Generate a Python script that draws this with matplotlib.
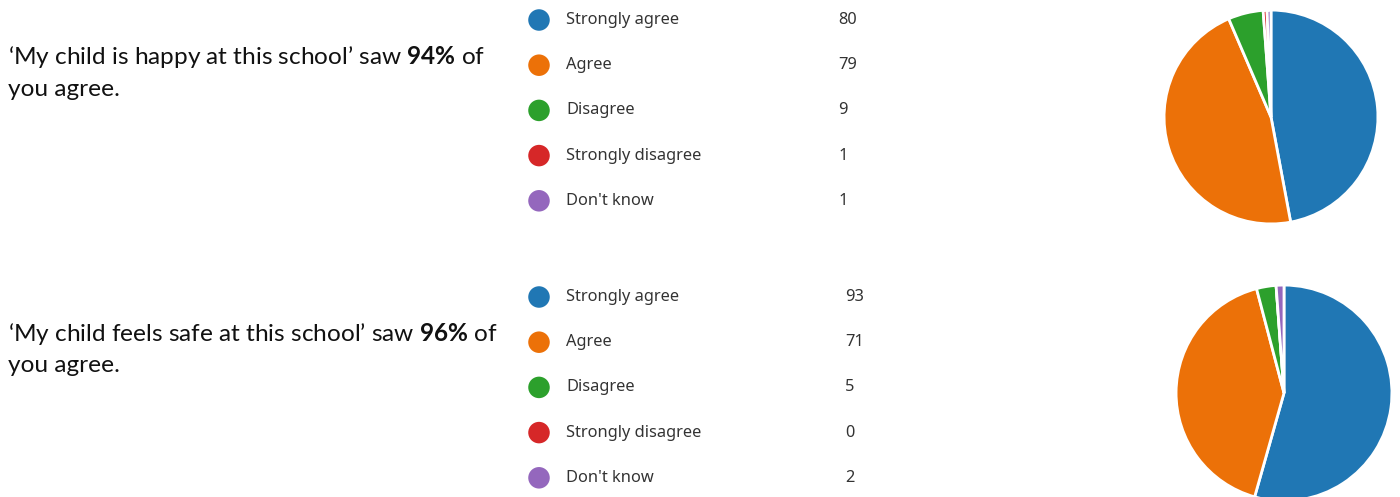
import matplotlib
matplotlib.use("Agg")
import matplotlib.pyplot as plt

W, H = 1400, 497

labels = ["Strongly agree", "Agree", "Disagree", "Strongly disagree", "Don't know"]
colors = ["#2077b4", "#ec7108", "#2ca02c", "#d62728", "#9467bd"]

happy_counts = [80, 79, 9, 1, 1]
safe_counts = [93, 71, 5, 0, 2]

questions = ["My child is happy at this school", "My child feels safe at this school"]
agree_pct = [94, 96]

plt.rcParams["mathtext.fontset"] = "custom"
plt.rcParams["mathtext.rm"] = "Lato"
plt.rcParams["mathtext.bf"] = "Lato:bold"

fig = plt.figure(figsize=(W / 100, H / 100), dpi=100)
ax = fig.add_axes([0, 0, 1, 1])
ax.set_xlim(0, W)
ax.set_ylim(H, 0)
ax.axis("off")

blocks = [
    dict(counts=happy_counts, text_y=57, leg_y=20, count_x=838, pie=(1271, 117, 108)),
    dict(counts=safe_counts, text_y=334, leg_y=297, count_x=845, pie=(1284, 393, 109)),
]

for q, pct, b in zip(questions, agree_pct, blocks):
    line1 = "\u2018" + q + "\u2019 saw $\\mathbf{" + str(pct) + "\\%}$ of"
    ax.text(8, b["text_y"], line1, fontsize=17.6, family="Lato", va="center", color="#111111")
    ax.text(8, b["text_y"] + 32, "you agree.", fontsize=17.6, family="Lato", va="center", color="#111111")

    for i, (lab, c, n) in enumerate(zip(labels, colors, b["counts"])):
        y = b["leg_y"] + i * 45.2
        ax.scatter([539], [y], s=240, color=c, edgecolors="none")
        ax.text(566, y, lab, fontsize=11.8, family="Noto Sans", va="center", color="#333333")
        ax.text(b["count_x"], y, str(n), fontsize=11.8, family="Noto Sans", va="center", color="#333333")

    cx, cy, r = b["pie"]
    pax = fig.add_axes([(cx - r) / W, (H - cy - r) / H, 2 * r / W, 2 * r / H])
    pax.pie(b["counts"], colors=colors, startangle=90, counterclock=False,
            wedgeprops=dict(edgecolor="white", linewidth=2))
    pax.set_xlim(-1.01, 1.01)
    pax.set_ylim(-1.01, 1.01)
    pax.set_aspect("equal")

fig.savefig("out.png", dpi=100)
